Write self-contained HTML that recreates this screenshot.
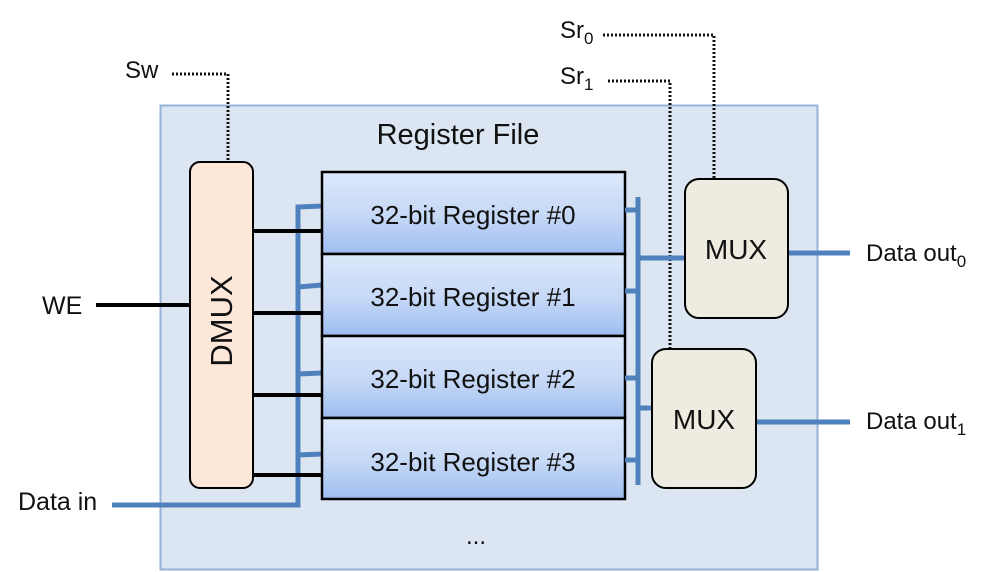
<!DOCTYPE html>
<html><head><meta charset="utf-8"><style>
html,body{margin:0;padding:0;background:#fff;}
svg{display:block;}
text{font-family:"Liberation Sans",sans-serif;fill:#111;}
</style></head><body>
<svg width="998" height="572" viewBox="0 0 998 572" xmlns="http://www.w3.org/2000/svg">
<defs>
<linearGradient id="rg" x1="0" y1="0" x2="0" y2="1">
<stop offset="0" stop-color="#dde8fb"/><stop offset="0.55" stop-color="#c5d8f6"/><stop offset="1" stop-color="#9dbdf0"/>
</linearGradient>
</defs>
<rect x="160.5" y="105.5" width="657" height="464" fill="#dce6f2" stroke="#95b3d7" stroke-width="2"/>
<text x="458" y="144" font-size="29" text-anchor="middle">Register File</text>
<text x="476" y="544" font-size="24" text-anchor="middle">...</text>

<g stroke="#111" stroke-width="3" stroke-dasharray="2,2" fill="none">
<polyline points="172,74 228,74 228,162"/>
<polyline points="603,35 714,35 714,179"/>
<polyline points="608,81 670,81 670,349"/>
</g>
<text x="125" y="78" font-size="24">Sw</text>
<text x="560" y="38" font-size="24">Sr<tspan font-size="17" dy="6">0</tspan></text>
<text x="560" y="84" font-size="24">Sr<tspan font-size="17" dy="6">1</tspan></text>

<line x1="96" y1="305" x2="190" y2="305" stroke="#000" stroke-width="4"/>
<text x="42" y="314" font-size="25">WE</text>

<g stroke="#4f81bd" stroke-width="5" fill="none">
<polyline points="112,505 298,505 298,207 322,206"/>
<line x1="298" y1="287" x2="322" y2="285"/>
<line x1="298" y1="374" x2="322" y2="373"/>
<line x1="298" y1="455" x2="322" y2="454"/>
</g>
<text x="18" y="510" font-size="25">Data in</text>

<rect x="190" y="162" width="63" height="326" rx="10" fill="#fce7d8" stroke="#000" stroke-width="2"/>
<text transform="translate(232,321) rotate(-90)" font-size="31" text-anchor="middle">DMUX</text>
<g stroke="#000" stroke-width="4">
<line x1="253" y1="231" x2="322" y2="231"/>
<line x1="253" y1="313" x2="322" y2="313"/>
<line x1="253" y1="395" x2="322" y2="395"/>
<line x1="253" y1="475" x2="322" y2="475"/>
</g>

<g stroke="#000" stroke-width="2.5">
<rect x="322" y="172" width="303" height="82" fill="url(#rg)"/>
<rect x="322" y="254" width="303" height="82" fill="url(#rg)"/>
<rect x="322" y="336" width="303" height="82" fill="url(#rg)"/>
<rect x="322" y="418" width="303" height="81" fill="url(#rg)"/>
</g>
<g font-size="26" text-anchor="middle">
<text x="473" y="224">32-bit Register #0</text>
<text x="473" y="306">32-bit Register #1</text>
<text x="473" y="388">32-bit Register #2</text>
<text x="473" y="471">32-bit Register #3</text>
</g>

<g stroke="#4f81bd" stroke-width="5" fill="none">
<line x1="638" y1="197" x2="638" y2="485"/>
<line x1="625" y1="210" x2="638" y2="210"/>
<line x1="625" y1="291" x2="638" y2="291"/>
<line x1="625" y1="378" x2="638" y2="378"/>
<line x1="625" y1="460" x2="638" y2="460"/>
<line x1="638" y1="258" x2="685" y2="258"/>
<line x1="638" y1="408" x2="652" y2="408"/>
<line x1="788" y1="253" x2="850" y2="253"/>
<line x1="756" y1="422" x2="850" y2="422"/>
</g>

<rect x="685" y="179" width="103" height="139" rx="14" fill="#eeebe0" stroke="#000" stroke-width="2"/>
<text x="736" y="259" font-size="28" text-anchor="middle">MUX</text>
<rect x="652" y="349" width="104" height="139" rx="14" fill="#eeebe0" stroke="#000" stroke-width="2"/>
<text x="704" y="429" font-size="28" text-anchor="middle">MUX</text>

<text x="866" y="261" font-size="24">Data out<tspan font-size="17" dy="6">0</tspan></text>
<text x="866" y="429" font-size="24">Data out<tspan font-size="17" dy="6">1</tspan></text>
</svg>
</body></html>
